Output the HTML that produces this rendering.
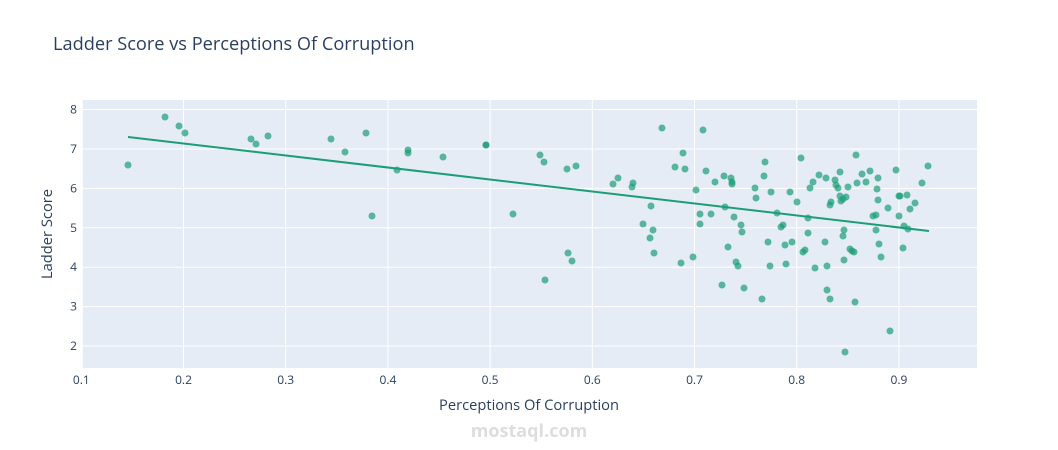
<!DOCTYPE html><html><head><style>body{margin:0;background:#fff}svg{display:block;font-family:"Open Sans","Liberation Sans",sans-serif}</style></head><body>
<svg width="1058" height="450" xmlns="http://www.w3.org/2000/svg">
<rect x="81" y="100" width="896" height="268" fill="#e5ecf6"/>
<g stroke="#fff" stroke-width="1">
<line x1="183.5" y1="100" x2="183.5" y2="368"/><line x1="285.7" y1="100" x2="285.7" y2="368"/><line x1="387.9" y1="100" x2="387.9" y2="368"/><line x1="490.1" y1="100" x2="490.1" y2="368"/><line x1="592.3" y1="100" x2="592.3" y2="368"/><line x1="694.5" y1="100" x2="694.5" y2="368"/><line x1="796.7" y1="100" x2="796.7" y2="368"/><line x1="898.9" y1="100" x2="898.9" y2="368"/>
<line x1="81" y1="109.5" x2="977" y2="109.5"/><line x1="81" y1="149" x2="977" y2="149"/><line x1="81" y1="188.4" x2="977" y2="188.4"/><line x1="81" y1="227.8" x2="977" y2="227.8"/><line x1="81" y1="267.2" x2="977" y2="267.2"/><line x1="81" y1="306.6" x2="977" y2="306.6"/><line x1="81" y1="346" x2="977" y2="346"/>
<line x1="81.8" y1="100" x2="81.8" y2="368" stroke-width="2"/>
</g>
<g fill="#2a3f5f" font-size="12" text-anchor="middle">
<text x="81.3" y="384">0.1</text><text x="183.5" y="384">0.2</text><text x="285.7" y="384">0.3</text><text x="387.9" y="384">0.4</text><text x="490.1" y="384">0.5</text><text x="592.3" y="384">0.6</text><text x="694.5" y="384">0.7</text><text x="796.7" y="384">0.8</text><text x="898.9" y="384">0.9</text>
</g>
<g fill="#2a3f5f" font-size="12" text-anchor="end">
<text x="77" y="113.5">8</text><text x="77" y="153">7</text><text x="77" y="192.4">6</text><text x="77" y="231.8">5</text><text x="77" y="271.2">4</text><text x="77" y="310.6">3</text><text x="77" y="350">2</text>
</g>
<text x="529" y="410" fill="#2a3f5f" font-size="14.7" text-anchor="middle">Perceptions Of Corruption</text>
<text transform="translate(52,234) rotate(-90)" fill="#2a3f5f" font-size="14.7" text-anchor="middle">Ladder Score</text>
<text x="53" y="50" fill="#2a3f5f" font-size="18.2">Ladder Score vs Perceptions Of Corruption</text>
<text x="529" y="437" fill="#ddd" font-size="18" font-weight="bold" text-anchor="middle">mostaql.com</text>
<g fill="#1b9e77" fill-opacity="0.7" id="pts"></g>
<line x1="128" y1="137" x2="929" y2="231" stroke="#1b9e77" stroke-width="2"/>
</svg>
<script>
var p=[128,165,165,117,179,126,185,133,251,139,256,144,268,136,331,139,345,152,366,133,372,216,397,170,408,150,408,153,443,157,486,145,486,145,513,214,540,155,544,162,545,280,567,169,568,253,572,261,576,166,613,184,618,178,632,187,633,183,643,224,650,238,651,206,653,230,654,253,662,128,675,167,681,263,683,153,685,169,693,257,696,190,700,224,700,214,703,130,706,171,711,214,715,182,722,285,724,176,725,207,728,247,731,178,732,182,732,184,734,217,736,262,738,266,741,225,742,232,744,288,755,188,756,198,762,299,764,176,765,162,768,242,770,266,771,192,777,213,781,227,783,225,785,245,786,264,790,192,792,242,797,202,801,158,803,252,805,250,808,218,808,233,810,188,813,182,815,268,819,175,825,242,826,178,827,290,827,266,830,205,830,299,831,202,835,180,836,185,838,188,840,196,840,172,841,201,843,199,844,230,843,236,844,260,845,352,846,197,848,187,850,249,852,251,854,252,855,302,856,155,857,183,862,174,866,182,870,171,873,216,876,230,876,215,877,189,878,178,878,200,879,244,881,257,888,208,890,331,896,170,899,196,899,216,900,196,903,248,904,226,907,195,908,229,910,209,915,203,922,183,928,166];
var g=document.getElementById('pts'),s='';
for(var i=0;i<p.length;i+=2)s+='<circle cx="'+p[i]+'" cy="'+p[i+1]+'" r="3.5"/>';
g.innerHTML=s;
</script>
</body></html>
